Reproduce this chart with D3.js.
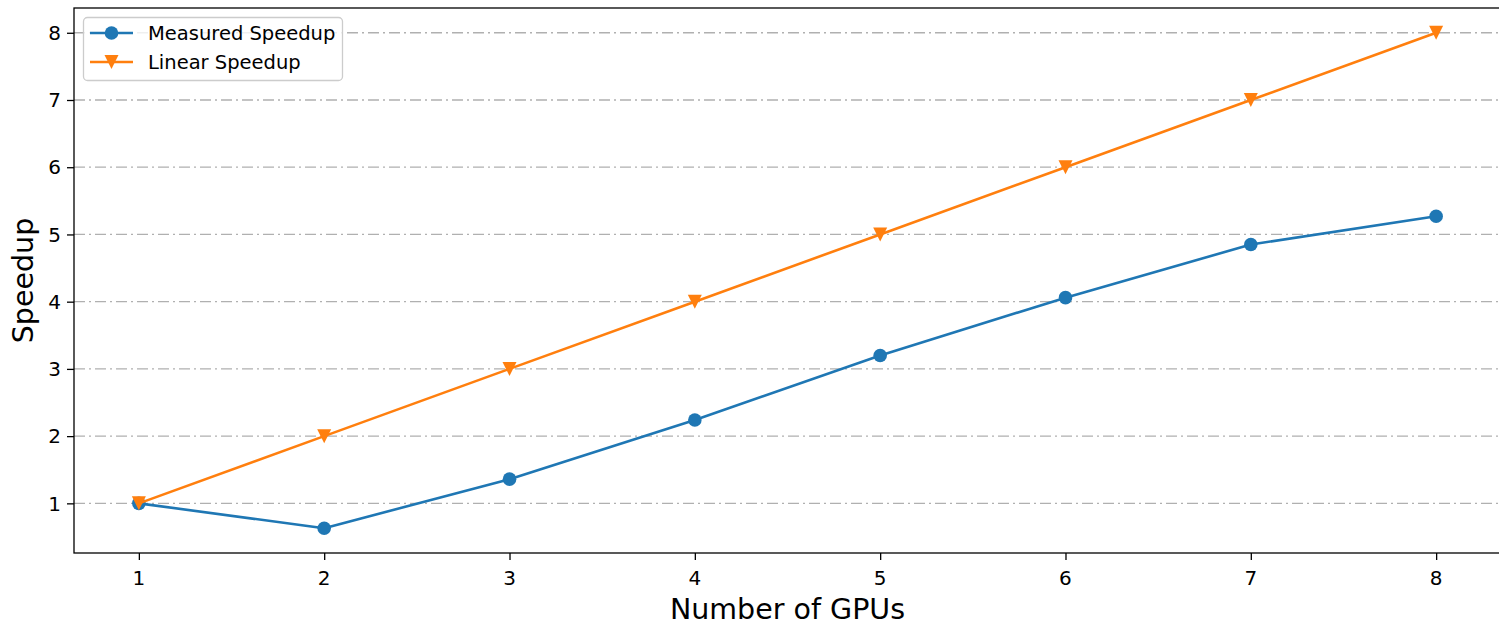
<!DOCTYPE html>
<meta charset="utf-8">
<script src="https://d3js.org/d3.v7.min.js"></script>
<style>
    body { margin: 0; background: #fff; }
    svg { display: block; font-family: "DejaVu Sans", sans-serif; }
</style>
<div id="my_dataviz"></div>
<script>

    // data
    const gpus = [1, 2, 3, 4, 5, 6, 7, 8];
    const measured = [1.0, 0.63, 1.36, 2.24, 3.2, 4.06, 4.85, 5.27];
    const linear = [1, 2, 3, 4, 5, 6, 7, 8];
    const yTicks = [1, 2, 3, 4, 5, 6, 7, 8];
    const seriesNames = ["Measured Speedup", "Linear Speedup"];

    const width = 1499;
    const height = 627;
    const marginTop = 8;
    const marginRight = -2;
    const marginBottom = 74;
    const marginLeft = 74;

    const blue = "#1f77b4";
    const orange = "#ff7f0e";
    const tickFont = "20px";
    const labelFont = "28.5px";

    const svg = d3.select("#my_dataviz")
        .append("svg")
        .attr("width", width)
        .attr("height", height)
        .attr("viewBox", [0, 0, width, height]);

    // matplotlib style 5% margins
    const xPad = (d3.max(gpus) - d3.min(gpus)) * 0.05;
    const yMin = d3.min(measured), yMax = d3.max(linear);
    const yPad = (yMax - yMin) * 0.05;

    const x = d3.scaleLinear()
        .domain([d3.min(gpus) - xPad, d3.max(gpus) + xPad])
        .range([marginLeft, width - marginRight]);

    const y = d3.scaleLinear()
        .domain([yMin - yPad, yMax + yPad])
        .range([height - marginBottom, marginTop]);

    // grid lines (dash-dot)
    svg.append("g")
        .selectAll("line")
        .data(yTicks)
        .join("line")
        .attr("x1", marginLeft)
        .attr("x2", width - marginRight)
        .attr("y1", d => y(d))
        .attr("y2", d => y(d))
        .attr("stroke", "#b0b0b0")
        .attr("stroke-width", 1.3)
        .attr("stroke-dasharray", "11,4,2,4");

    // axes: tick marks from d3, labels drawn by hand so the font size sticks
    const xAxis = svg.append("g")
        .attr("transform", `translate(0,${height - marginBottom})`)
        .call(d3.axisBottom(x).tickValues(gpus).tickSize(7).tickFormat("").tickSizeOuter(0));

    const yAxis = svg.append("g")
        .attr("transform", `translate(${marginLeft},0)`)
        .call(d3.axisLeft(y).tickValues(yTicks).tickSize(7).tickFormat("").tickSizeOuter(0));

    [xAxis, yAxis].forEach(g => {
        g.select(".domain").remove();
        g.selectAll(".tick line").attr("stroke", "#000").attr("stroke-width", 1.3);
    });

    svg.append("g")
        .selectAll("text")
        .data(gpus)
        .join("text")
        .attr("x", d => x(d))
        .attr("y", height - marginBottom + 32)
        .attr("text-anchor", "middle")
        .style("font-size", tickFont)
        .text(d => d);

    svg.append("g")
        .selectAll("text")
        .data(yTicks)
        .join("text")
        .attr("x", marginLeft - 13)
        .attr("y", d => y(d))
        .attr("dy", "0.36em")
        .attr("text-anchor", "end")
        .style("font-size", tickFont)
        .text(d => d);

    // spines
    svg.append("rect")
        .attr("x", marginLeft)
        .attr("y", marginTop)
        .attr("width", width - marginRight - marginLeft)
        .attr("height", height - marginBottom - marginTop)
        .attr("fill", "none")
        .attr("stroke", "#000")
        .attr("stroke-width", 1.3);

    // axis labels
    svg.append("text")
        .attr("x", (marginLeft + width - marginRight) / 2)
        .attr("y", 619)
        .attr("text-anchor", "middle")
        .style("font-size", labelFont)
        .text("Number of GPUs");

    svg.append("text")
        .attr("transform", `translate(33,${(marginTop + height - marginBottom) / 2}) rotate(-90)`)
        .attr("text-anchor", "middle")
        .style("font-size", labelFont)
        .text("Speedup");

    const line = d3.line()
        .x((d, i) => x(gpus[i]))
        .y(d => y(d));

    // matplotlib style "v" marker, centred on its box
    const tri = "M-7,-7L7,-7L0,7Z";

    // measured
    svg.append("path")
        .datum(measured)
        .attr("fill", "none")
        .attr("stroke", blue)
        .attr("stroke-width", 2.6)
        .attr("stroke-linejoin", "round")
        .attr("d", line);

    svg.append("g")
        .selectAll("circle")
        .data(measured)
        .join("circle")
        .attr("cx", (d, i) => x(gpus[i]))
        .attr("cy", d => y(d))
        .attr("r", 6.8)
        .attr("fill", blue);

    // linear
    svg.append("path")
        .datum(linear)
        .attr("fill", "none")
        .attr("stroke", orange)
        .attr("stroke-width", 2.6)
        .attr("stroke-linejoin", "round")
        .attr("d", line);

    svg.append("g")
        .selectAll("path")
        .data(linear)
        .join("path")
        .attr("transform", (d, i) => `translate(${x(gpus[i])},${y(d)})`)
        .attr("d", tri)
        .attr("fill", orange);

    // legend
    const legend = svg.append("g");
    legend.append("rect")
        .attr("x", 83.5)
        .attr("y", 17.5)
        .attr("width", 259)
        .attr("height", 63)
        .attr("rx", 4)
        .attr("fill", "#fff")
        .attr("fill-opacity", 0.8)
        .attr("stroke", "#cccccc")
        .attr("stroke-width", 1.3);

    const items = legend.selectAll("g.item")
        .data(seriesNames)
        .join("g")
        .attr("class", "item")
        .attr("transform", (d, i) => `translate(0,${33 + i * 29})`);

    items.append("line")
        .attr("x1", 90)
        .attr("x2", 133)
        .attr("stroke", (d, i) => i === 0 ? blue : orange)
        .attr("stroke-width", 2.6);

    items.each(function (d, i) {
        const g = d3.select(this);
        if (i === 0) {
            g.append("circle").attr("cx", 111.5).attr("r", 6.8).attr("fill", blue);
        } else {
            g.append("path")
                .attr("transform", "translate(111.5,0)")
                .attr("d", tri)
                .attr("fill", orange);
        }
    });

    items.append("text")
        .attr("x", 148)
        .attr("dy", "0.35em")
        .style("font-size", "19.5px")
        .text(d => d);

</script>
